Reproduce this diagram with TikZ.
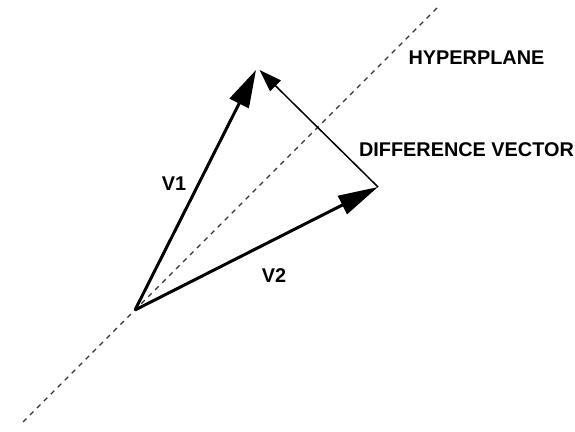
\documentclass[tikz,border=0pt]{standalone}
\usepackage{fontspec}
\setmainfont{Liberation Sans}
\usetikzlibrary{arrows.meta, positioning}
\definecolor{cbk}{HTML}{000000}
\definecolor{cdash}{HTML}{333333}

\begin{document}
\begin{tikzpicture}
    \useasboundingbox (0,0) rectangle (11.5,8.64);
    \begin{scope}[font=\fontsize{11.3}{13}\selectfont\bfseries\color{cbk}]
        \coordinate (o) at (2.70,2.44);
        \coordinate (v1) at (5.12,7.24);
        \coordinate (v2) at (7.56,4.90);
        \coordinate (dtip) at (5.19,7.24);
        \coordinate (hlo) at (0.46,0.20);
        \coordinate (hhi) at (8.74,8.48);
        \draw[cdash, line width=0.65pt, dash pattern=on 2.8pt off 2.8pt] (hlo) -- (hhi);
        \draw[-{Triangle[length=0.75cm, width=0.42cm]}, line width=1.7pt, draw=cbk] (o) -- (v1);
        \draw[-{Triangle[length=0.8cm, width=0.4cm]}, line width=1.7pt, draw=cbk] (o) -- (v2);
        \draw[-{Triangle[length=0.45cm, width=0.3cm]}, line width=0.85pt, draw=cbk] (v2) -- (dtip);
        \node (hyp) at (9.53,7.48) {HYPERPLANE};
        \node (diff) at (9.33,5.64) {DIFFERENCE VECTOR};
        \node (l1) at (3.48,4.96) {V1};
        \node (l2) at (5.48,3.12) {V2};
    \end{scope}
\end{tikzpicture}
\end{document}
